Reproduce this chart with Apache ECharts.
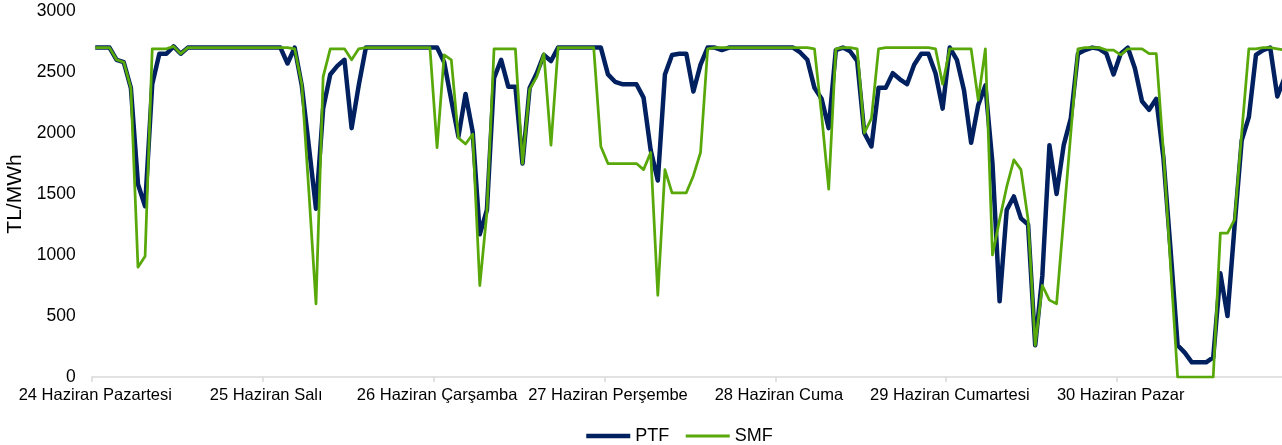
<!DOCTYPE html>
<html>
<head>
<meta charset="utf-8">
<script src="https://cdn.jsdelivr.net/npm/echarts@6/dist/echarts.min.js"></script>
<style>
html,body{margin:0;padding:0;background:#fff;}
#chart{width:1282px;height:445px;}
</style>
</head>
<body>
<div id="chart"></div>
<script>
// Day labels (x-axis tick labels), 24 hourly points per day
const dayLabels = ["24 Haziran Pazartesi","25 Haziran Salı","26 Haziran Çarşamba","27 Haziran Perşembe","28 Haziran Cuma","29 Haziran Cumartesi","30 Haziran Pazar"];
const hours = ["00","01","02","03","04","05","06","07","08","09","10","11","12","13","14","15","16","17","18","19","20","21","22","23"];

// PTF (TL/MWh), one array per day
const ptf24 = [2700,2700,2700,2600,2580,2370,1580,1400,2400,2650,2650,2710,2650,2700,2700,2700,2700,2700,2700,2700,2700,2700,2700,2700];
const ptf25 = [2700,2700,2700,2570,2700,2390,1890,1380,2200,2480,2550,2600,2040,2390,2700,2700,2700,2700,2700,2700,2700,2700,2700,2700];
const ptf26 = [2700,2580,2270,1970,2320,2010,1170,1370,2450,2600,2380,2380,1750,2370,2490,2640,2590,2700,2700,2700,2700,2700,2700,2700];
const ptf27 = [2480,2420,2400,2400,2400,2290,1860,1610,2480,2640,2650,2650,2340,2560,2700,2700,2680,2700,2700,2700,2700,2700,2700,2700];
const ptf28 = [2700,2700,2700,2660,2600,2370,2280,2040,2680,2700,2670,2590,2000,1890,2370,2370,2490,2440,2400,2560,2650,2650,2490,2200];
const ptf29 = [2700,2600,2350,1920,2230,2390,1750,620,1370,1480,1300,1250,260,830,1900,1500,1900,2120,2650,2680,2700,2690,2650,2480];
const ptf30 = [2650,2700,2530,2260,2190,2280,1800,1050,260,200,120,120,120,160,850,500,1240,1940,2130,2640,2680,2700,2300,2450];

// SMF (TL/MWh), one array per day
const smf24 = [2700,2700,2700,2600,2580,2370,900,990,2690,2690,2690,2710,2650,2700,2700,2700,2700,2700,2700,2700,2700,2700,2700,2700];
const smf25 = [2700,2700,2700,2700,2690,2400,1520,600,2460,2690,2690,2690,2600,2690,2700,2700,2700,2700,2700,2700,2700,2700,2700,2700];
const smf26 = [1880,2640,2600,1960,1910,1990,750,1350,2690,2690,2690,2690,1750,2360,2460,2650,1900,2700,2700,2700,2700,2700,2700,1890];
const smf27 = [1750,1750,1750,1750,1750,1700,1840,670,1700,1510,1510,1510,1650,1840,2690,2700,2700,2700,2700,2700,2700,2700,2700,2700];
const smf28 = [2700,2700,2700,2700,2700,2690,2150,1540,2690,2700,2700,2690,2000,2120,2690,2700,2700,2700,2700,2700,2700,2700,2690,2400];
const smf29 = [2690,2690,2690,2690,2270,2690,1000,1290,1560,1780,1700,1290,260,750,630,600,1300,2000,2690,2700,2700,2700,2680,2680];
const smf30 = [2640,2690,2690,2690,2650,2650,1850,920,0,0,0,0,0,0,1180,1180,1290,2000,2690,2690,2700,2700,2690,2680];

const yTicks = [0,500,1000,1500,2000,2500,3000];

const ptf = [].concat(ptf24,ptf25,ptf26,ptf27,ptf28,ptf29,ptf30);
const smf = [].concat(smf24,smf25,smf26,smf27,smf28,smf29,smf30);
const categories = [];
dayLabels.forEach(d => hours.forEach(h => categories.push(d + " " + h + ":00")));

const FONT = "'Liberation Sans', Arial, sans-serif";
const NAVY = '#002060', GREEN = '#58a80a';
const chart = echarts.init(document.getElementById('chart'), null, {renderer:'canvas'});
chart.setOption({
  animation: false,
  backgroundColor: '#ffffff',
  grid: {left: 91.7, right: -6, top: 11, bottom: 68, containLabel: false, outerBoundsMode: 'none'},
  legend: {
    left: 579, top: 422,
    itemWidth: 44, itemHeight: 14, itemGap: 15,
    itemStyle: {opacity: 0},
    textStyle: {fontFamily: FONT, fontSize: 18, color: '#000'},
    data: [
      {name: 'PTF', lineStyle: {width: 4.5, color: NAVY}},
      {name: 'SMF', lineStyle: {width: 3, color: GREEN}}
    ]
  },
  xAxis: {
    type: 'category',
    data: categories,
    boundaryGap: true,
    axisLine: {show: true, lineStyle: {color: '#d9d9d9', width: 1.5}},
    axisTick: {show: true, interval: 23, length: 5, lineStyle: {color: '#d9d9d9', width: 1.5}},
    axisLabel: {
      interval: 23, margin: 10,
      fontFamily: FONT, fontSize: 16.5, color: '#000',
      formatter: (v, i) => dayLabels[Math.floor(i / 24)]
    },
    splitLine: {show: false}
  },
  yAxis: {
    type: 'value',
    min: yTicks[0], max: yTicks[yTicks.length - 1], interval: 500,
    name: 'TL/MWh', nameLocation: 'middle', nameGap: 66, nameRotate: 90,
    nameTextStyle: {fontFamily: FONT, fontSize: 21, color: '#000'},
    axisLine: {show: false}, axisTick: {show: false},
    splitLine: {show: false},
    axisLabel: {margin: 16, fontFamily: FONT, fontSize: 17.5, color: '#000', formatter: v => String(v)}
  },
  series: [
    {name: 'PTF', type: 'line', data: ptf, symbol: 'none', clip: true,
     lineStyle: {color: NAVY, width: 4.5, join: 'round'}, itemStyle: {color: NAVY}},
    {name: 'SMF', type: 'line', data: smf, symbol: 'none', clip: true,
     lineStyle: {color: GREEN, width: 2.75, join: 'round'}, itemStyle: {color: GREEN}}
  ]
});
</script>
</body>
</html>
